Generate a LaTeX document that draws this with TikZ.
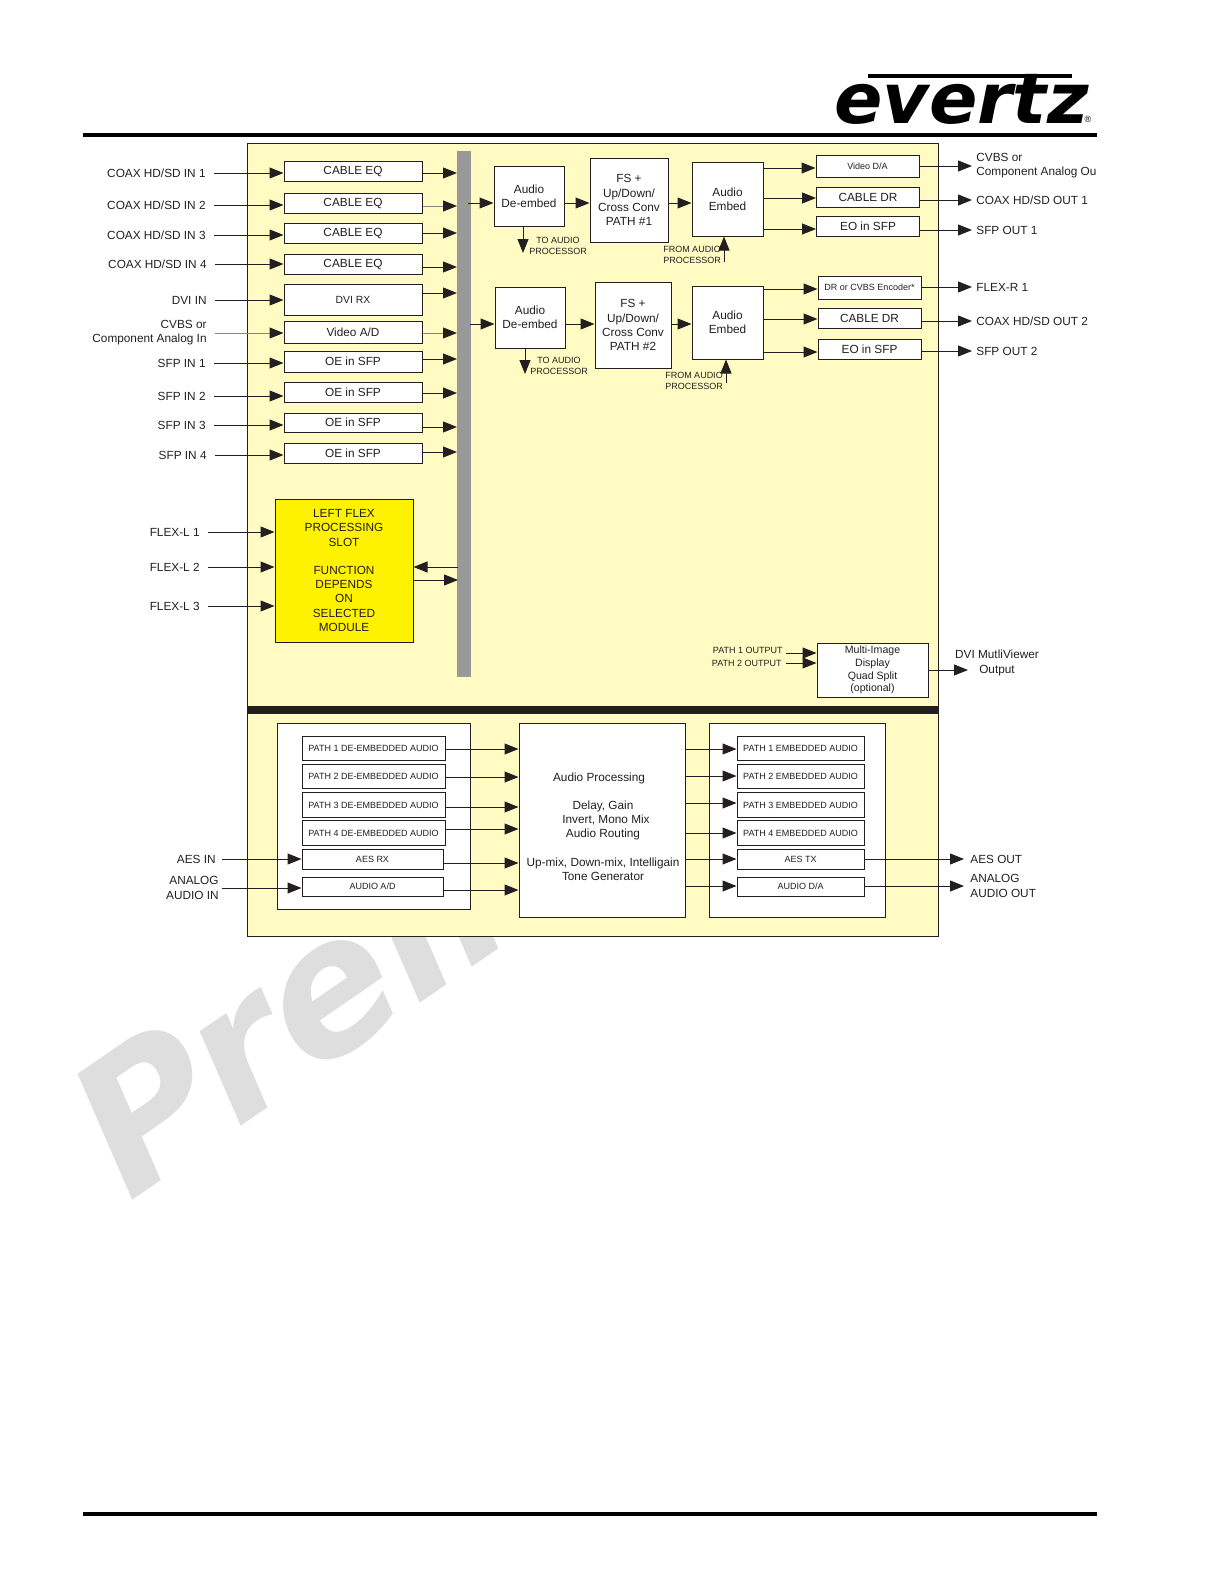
\documentclass[tikz,border=0pt]{standalone}
\usepackage{fontspec}
\setmainfont{Liberation Sans}
\newfontfamily\evheavy{DejaVu Sans}
\usepackage{xcolor}
\usetikzlibrary{arrows.meta, calc}
\definecolor{evpanel}{HTML}{FFFBC2}
\definecolor{evyellow}{HTML}{FFF200}
\definecolor{evgrey}{HTML}{999999}
\definecolor{evink}{HTML}{231F20}
\definecolor{evmark}{HTML}{DEDEDE}
\newcommand{\fsmain}{\fontsize{5.9pt}{7.1pt}\selectfont}
\newcommand{\fsmid}{\fontsize{5.3pt}{6.3pt}\selectfont}
\newcommand{\fssmall}{\fontsize{4.5pt}{5.3pt}\selectfont}
\tikzset{
    sig/.style={draw=evink, line width=.5pt, -{Triangle[length=7pt, width=5.5pt, color=evink]}},
    sigfaint/.style={sig, draw=evink!55},
    rule/.style={draw=black, line width=2pt},
    sigbox/.style={draw=evink, fill=white, line width=.5pt, inner sep=0pt, align=center, text=evink, font=\fsmain},
    inbox/.style={sigbox, minimum width=69pt},
    outbox/.style={sigbox, minimum width=51.5pt},
    pathbox/.style={sigbox, font=\fssmall, minimum width=71.5pt, minimum height=12.3pt},
    retbox/.style={sigbox, font=\fssmall, minimum width=63.5pt, minimum height=12.3pt},
    lblin/.style={anchor=east, inner ysep=0pt, inner xsep=4pt, align=right, text=evink, font=\fsmain},
    lblout/.style={anchor=west, inner ysep=0pt, inner xsep=2pt, align=left, text=evink, font=\fsmain},
    lblsmall/.style={inner sep=0pt, align=center, text=evink, font=\fssmall}
}
\begin{document}
\begin{tikzpicture}[x=.5pt, y=-.5pt]
    \useasboundingbox (0,0) rectangle (1224,1584);
    \node[anchor=base west, inner sep=0pt, rotate=34.5, text=evmark, font=\evheavy\fontsize{92.5pt}{92.5pt}\selectfont\bfseries\itshape] (mark) at (129,1203) {Preli};
    \node[anchor=base west, inner sep=0pt, text=black, font=\evheavy\fontsize{35pt}{35pt}\selectfont\bfseries\itshape] (logo) at (834,124) {\scalebox{1.02}[1]{evertz}};
    \node[inner sep=0pt, text=black, font=\fontsize{4.5pt}{5pt}\selectfont] (regd) at (1088,119) {®};
    \fill[black] (868,74) rectangle (1072,78);
    \coordinate (topL) at (83,135);
    \coordinate (topR) at (1097,135);
    \coordinate (botL) at (83,1514);
    \coordinate (botR) at (1097,1514);
    \draw[rule] (topL) -- (topR);
    \draw[rule] (botL) -- (botR);

    \node[draw=evink, fill=evpanel, line width=.5pt, minimum width=345.5pt, minimum height=396.5pt, inner sep=0pt] (panel) at (592.5,539.5) {};
    \node[fill=evink, minimum width=345.5pt, minimum height=4pt, inner sep=0pt] (divider) at (592.5,710) {};
    \node[fill=evgrey, minimum width=7pt, minimum height=263pt, inner sep=0pt] (bar) at (464,414) {};

    \node[inbox, minimum height=10pt] (eqA) at (353,171) {CABLE EQ};
    \node[inbox, minimum height=10pt] (eqB) at (353,203) {CABLE EQ};
    \node[inbox, minimum height=10pt] (eqC) at (353,233) {CABLE EQ};
    \node[inbox, minimum height=10pt] (eqD) at (353,264) {CABLE EQ};
    \node[inbox, minimum height=15.5pt, font=\fontsize{5.2pt}{6pt}\selectfont] (dvirx) at (353,299.5) {DVI RX};
    \node[inbox, minimum height=11pt] (vad) at (353,332) {Video A/D};
    \node[inbox, minimum height=10.5pt] (oeA) at (353,361.5) {OE in SFP};
    \node[inbox, minimum height=10pt] (oeB) at (353,392) {OE in SFP};
    \node[inbox, minimum height=9.5pt] (oeC) at (353,422.5) {OE in SFP};
    \node[inbox, minimum height=10pt] (oeD) at (353,453) {OE in SFP};

    \node[lblin] (inA) at (214,173) {COAX HD/SD IN 1};
    \node[lblin] (inB) at (214,205) {COAX HD/SD IN 2};
    \node[lblin] (inC) at (214,235) {COAX HD/SD IN 3};
    \node[lblin] (inD) at (215,264) {COAX HD/SD IN 4};
    \node[lblin] (inE) at (215,300) {DVI IN};
    \node[lblin] (inF) at (215,333) {CVBS or\\Component Analog In};
    \node[lblin] (inG) at (214,363) {SFP IN 1};
    \node[lblin] (inH) at (214,396) {SFP IN 2};
    \node[lblin] (inI) at (214,425) {SFP IN 3};
    \node[lblin] (inJ) at (215,455) {SFP IN 4};

    \draw[sig] (inA.east) -- (inA.east -| eqA.west);
    \draw[sig] (inB.east) -- (inB.east -| eqB.west);
    \draw[sig] (inC.east) -- (inC.east -| eqC.west);
    \draw[sig] (inD.east) -- (inD.east -| eqD.west);
    \draw[sig] (inE.east) -- (inE.east -| dvirx.west);
    \draw[sigfaint] (inF.east) -- (inF.east -| vad.west);
    \draw[sig] (inG.east) -- (inG.east -| oeA.west);
    \draw[sig] (inH.east) -- (inH.east -| oeB.west);
    \draw[sig] (inI.east) -- (inI.east -| oeC.west);
    \draw[sig] (inJ.east) -- (inJ.east -| oeD.west);

    \coordinate (busA) at (457,173);
    \coordinate (busB) at (457,206);
    \coordinate (busC) at (457,233);
    \coordinate (busD) at (457,267);
    \coordinate (busE) at (457,293);
    \coordinate (busF) at (457,333);
    \coordinate (busG) at (457,359);
    \coordinate (busH) at (457,393);
    \coordinate (busI) at (457,427);
    \coordinate (busJ) at (457,452);
    \draw[sig] (busA -| eqA.east) -- (busA);
    \draw[sigfaint] (busB -| eqB.east) -- (busB);
    \draw[sig] (busC -| eqC.east) -- (busC);
    \draw[sig] (busD -| eqD.east) -- (busD);
    \draw[sig] (busE -| dvirx.east) -- (busE);
    \draw[sigfaint] (busF -| vad.east) -- (busF);
    \draw[sig] (busG -| oeA.east) -- (busG);
    \draw[sig] (busH -| oeB.east) -- (busH);
    \draw[sig] (busI -| oeC.east) -- (busI);
    \draw[sig] (busJ -| oeD.east) -- (busJ);

    \node[sigbox, minimum width=69pt, minimum height=71.5pt, fill=evyellow] (flex) at (344,570.5)
          {LEFT FLEX\\PROCESSING\\SLOT\\[7.1pt]FUNCTION\\DEPENDS\\ON\\SELECTED\\MODULE};
    \node[lblin] (flA) at (208,532) {FLEX-L 1};
    \node[lblin] (flB) at (208,567) {FLEX-L 2};
    \node[lblin] (flC) at (208,606) {FLEX-L 3};
    \draw[sig] (flA.east) -- (flA.east -| flex.west);
    \draw[sig] (flB.east) -- (flB.east -| flex.west);
    \draw[sig] (flC.east) -- (flC.east -| flex.west);
    \coordinate (busK) at (458,567);
    \coordinate (busL) at (458,580);
    \draw[sig] (busK) -- (busK -| flex.east);
    \draw[sig] (busL -| flex.east) -- (busL);

    \node[sigbox, minimum width=35pt, minimum height=30pt] (deA) at (529,196) {Audio\\De-embed};
    \node[sigbox, minimum width=39pt, minimum height=42pt] (fsA) at (629,200) {FS +\\Up/Down/\\Cross Conv\\PATH \#1};
    \node[sigbox, minimum width=35.5pt, minimum height=37pt] (emA) at (727.5,199) {Audio\\Embed};
    \node[sigbox, minimum width=35pt, minimum height=30.5pt] (deB) at (530,317.5) {Audio\\De-embed};
    \node[sigbox, minimum width=38pt, minimum height=43pt] (fsB) at (633,325) {FS +\\Up/Down/\\Cross Conv\\PATH \#2};
    \node[sigbox, minimum width=35.5pt, minimum height=36.5pt] (emB) at (727.5,322.5) {Audio\\Embed};

    \coordinate (rowA) at (468,203);
    \coordinate (rowB) at (470,324);
    \draw[sig] (rowA) -- (rowA -| deA.west);
    \draw[sig] (rowA -| deA.east) -- (rowA -| fsA.west);
    \draw[sig] (rowA -| fsA.east) -- (rowA -| emA.west);
    \draw[sig] (rowB) -- (rowB -| deB.west);
    \draw[sig] (rowB -| deB.east) -- (rowB -| fsB.west);
    \draw[sig] (rowB -| fsB.east) -- (rowB -| emB.west);

    \node[lblsmall] (toA) at (558,246) {TO AUDIO\\PROCESSOR};
    \node[lblsmall] (toB) at (559,366) {TO AUDIO\\PROCESSOR};
    \node[lblsmall] (frA) at (692,255) {FROM AUDIO\\PROCESSOR};
    \node[lblsmall] (frB) at (694,381) {FROM AUDIO\\PROCESSOR};
    \coordinate (toendA) at (523,253);
    \coordinate (toendB) at (525,374);
    \coordinate (frstA) at (724,262);
    \coordinate (frstB) at (726,383);
    \draw[sig] (toendA |- deA.south) -- (toendA);
    \draw[sig] (toendB |- deB.south) -- (toendB);
    \draw[sig] (frstA) -- (frstA |- emA.south);
    \draw[sig] (frstB) -- (frstB |- emB.south);

    \node[outbox, minimum height=11pt, font=\fssmall] (vda) at (867.5,166) {Video D/A};
    \node[outbox, minimum height=10pt] (drA) at (868,197) {CABLE DR};
    \node[outbox, minimum height=10pt] (eoA) at (868,226) {EO in SFP};
    \node[outbox, minimum height=11.5pt, font=\fssmall] (enc) at (869.5,287.5) {DR or CVBS Encoder*};
    \node[outbox, minimum height=10pt] (drB) at (869.5,318) {CABLE DR};
    \node[outbox, minimum height=10pt] (eoB) at (869.5,349) {EO in SFP};

    \coordinate (emoA) at (790,168);
    \coordinate (emoB) at (790,198);
    \coordinate (emoC) at (790,229);
    \coordinate (emoD) at (790,289);
    \coordinate (emoE) at (790,319);
    \coordinate (emoF) at (790,352);
    \draw[sig] (emoA -| emA.east) -- (emoA -| vda.west);
    \draw[sig] (emoB -| emA.east) -- (emoB -| drA.west);
    \draw[sig] (emoC -| emA.east) -- (emoC -| eoA.west);
    \draw[sig] (emoD -| emB.east) -- (emoD -| enc.west);
    \draw[sig] (emoE -| emB.east) -- (emoE -| drB.west);
    \draw[sig] (emoF -| emB.east) -- (emoF -| eoB.west);

    \node[lblout] (ouA) at (972,166) {CVBS or\\Component Analog Ou};
    \node[lblout] (ouB) at (972,200) {COAX HD/SD OUT 1};
    \node[lblout] (ouC) at (972,230) {SFP OUT 1};
    \node[lblout] (ouD) at (972,287) {FLEX-R 1};
    \node[lblout] (ouE) at (972,321) {COAX HD/SD OUT 2};
    \node[lblout] (ouF) at (972,351) {SFP OUT 2};
    \draw[sig] (ouA.west -| vda.east) -- (ouA.west);
    \draw[sig] (ouB.west -| drA.east) -- (ouB.west);
    \draw[sig] (ouC.west -| eoA.east) -- (ouC.west);
    \draw[sig] (ouD.west -| enc.east) -- (ouD.west);
    \draw[sig] (ouE.west -| drB.east) -- (ouE.west);
    \draw[sig] (ouF.west -| eoB.east) -- (ouF.west);

    \node[sigbox, minimum width=55.5pt, minimum height=27pt, font=\fsmid] (multi) at (872.5,670) {Multi-Image\\Display\\Quad Split\\(optional)};
    \node[inner sep=0pt, align=right, text=evink, font=\fssmall, anchor=east] (pathA) at (783,650) {PATH 1 OUTPUT};
    \node[inner sep=0pt, align=right, text=evink, font=\fssmall, anchor=east] (pathB) at (782,663) {PATH 2 OUTPUT};
    \coordinate (pstA) at (786,653);
    \coordinate (pstB) at (786,663);
    \draw[sig] (pstA) -- (pstA -| multi.west);
    \draw[sig] (pstB) -- (pstB -| multi.west);
    \node[inner sep=0pt, align=center, text=evink, font=\fsmain] (dviout) at (997,663) {DVI MutliViewer\\Output};
    \coordinate (dviend) at (968,670);
    \draw[sig] (dviend -| multi.east) -- (dviend);

    \node[sigbox, minimum width=96.5pt, minimum height=93pt] (frameL) at (374,816) {};
    \node[sigbox, minimum width=88pt, minimum height=97pt] (frameR) at (797,820) {};
    \node[sigbox, minimum width=83pt, minimum height=97pt] (proc) at (602,820) {};
    \node[inner sep=0pt, align=center, text=evink, font=\fsmain] (proctext) at (603,826.5)
          {\hspace*{-4pt}Audio Processing\\[7.1pt]Delay, Gain\\\hspace*{3pt}Invert, Mono Mix\\Audio Routing\\[7.1pt]Up-mix, Down-mix, Intelligain\\Tone Generator};

    \node[pathbox] (deaA) at (373.5,748.5) {PATH 1 DE-EMBEDDED AUDIO};
    \node[pathbox] (deaB) at (373.5,776.5) {PATH 2 DE-EMBEDDED AUDIO};
    \node[pathbox] (deaC) at (373.5,805) {PATH 3 DE-EMBEDDED AUDIO};
    \node[pathbox] (deaD) at (373.5,833) {PATH 4 DE-EMBEDDED AUDIO};
    \node[pathbox, minimum width=70.5pt, minimum height=10pt] (aesrx) at (372.5,859) {AES RX};
    \node[pathbox, minimum width=70.5pt, minimum height=9.5pt] (aad) at (372.5,886.5) {AUDIO A/D};

    \node[retbox] (embA) at (800.5,748.5) {PATH 1 EMBEDDED AUDIO};
    \node[retbox] (embB) at (800.5,776.5) {PATH 2 EMBEDDED AUDIO};
    \node[retbox] (embC) at (800.5,805) {PATH 3 EMBEDDED AUDIO};
    \node[retbox] (embD) at (800.5,833) {PATH 4 EMBEDDED AUDIO};
    \node[retbox, minimum height=10pt] (aestx) at (800.5,859) {AES TX};
    \node[retbox, minimum height=9.5pt] (ada) at (800.5,886.5) {AUDIO D/A};

    \coordinate (prA) at (490,749);
    \coordinate (prB) at (490,777);
    \coordinate (prC) at (490,807);
    \coordinate (prD) at (490,829);
    \coordinate (prE) at (490,863);
    \coordinate (prF) at (490,890);
    \draw[sig] (prA -| deaA.east) -- (prA -| proc.west);
    \draw[sig] (prB -| deaB.east) -- (prB -| proc.west);
    \draw[sig] (prC -| deaC.east) -- (prC -| proc.west);
    \draw[sig] (prD -| deaD.east) -- (prD -| proc.west);
    \draw[sig] (prE -| aesrx.east) -- (prE -| proc.west);
    \draw[sig] (prF -| aad.east) -- (prF -| proc.west);

    \coordinate (poA) at (700,749);
    \coordinate (poB) at (700,776);
    \coordinate (poC) at (700,803);
    \coordinate (poD) at (700,833);
    \coordinate (poE) at (700,859);
    \coordinate (poF) at (700,886);
    \draw[sig] (poA -| proc.east) -- (poA -| embA.west);
    \draw[sig] (poB -| proc.east) -- (poB -| embB.west);
    \draw[sig] (poC -| proc.east) -- (poC -| embC.west);
    \draw[sig] (poD -| proc.east) -- (poD -| embD.west);
    \draw[sig] (poE -| proc.east) -- (poE -| aestx.west);
    \draw[sig] (poF -| proc.east) -- (poF -| ada.west);

    \node[lblin, inner xsep=3pt] (aesin) at (222,859) {AES IN};
    \node[lblin, inner xsep=1.5pt] (anain) at (222,888) {ANALOG\\AUDIO IN};
    \draw[sig] (aesin.east) -- (aesin.east -| aesrx.west);
    \draw[sig] (anain.east) -- (anain.east -| aad.west);
    \node[lblout, inner xsep=3pt] (aesout) at (964,859) {AES OUT};
    \node[lblout, inner xsep=3pt] (anaout) at (964,886) {ANALOG\\AUDIO OUT};
    \draw[sig] (aesout.west -| aestx.east) -- (aesout.west);
    \draw[sig] (anaout.west -| ada.east) -- (anaout.west);
\end{tikzpicture}
\end{document}
